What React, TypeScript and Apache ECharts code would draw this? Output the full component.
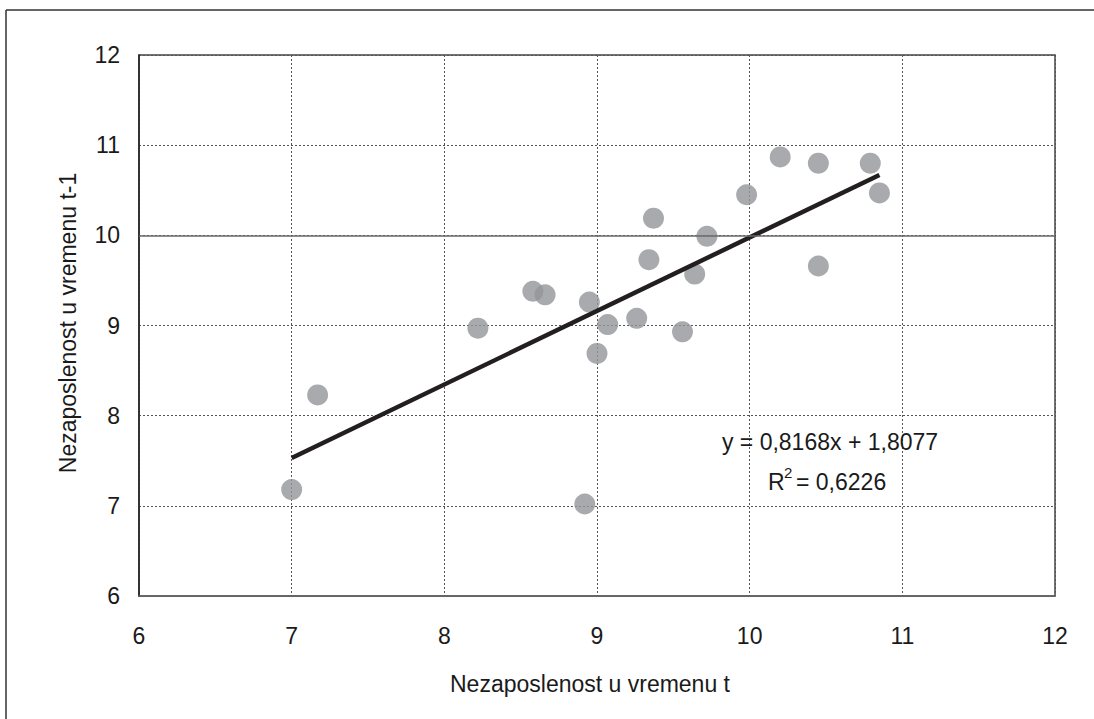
import React, { useEffect, useRef } from "react";
import * as echarts from "echarts";

const xValues = [7.0, 7.17, 8.22, 8.58, 8.66, 8.92, 8.95, 9.0, 9.07, 9.26, 9.34, 9.37, 9.56, 9.64, 9.72, 9.98, 10.2, 10.45, 10.45, 10.79, 10.85];
const yValues = [7.18, 8.23, 8.97, 9.38, 9.34, 7.02, 9.26, 8.69, 9.01, 9.08, 9.73, 10.19, 8.93, 9.57, 9.99, 10.45, 10.87, 10.8, 9.66, 10.8, 10.47];
const trendX = [7.0, 10.85];
const trendY = [7.53, 10.67];
const xTitle = "Nezaposlenost u vremenu t";
const yTitle = "Nezaposlenost u vremenu t-1";
const equation = "y = 0,8168x + 1,8077";
const rSquared = "= 0,6226";

export default function App() {
  const ref = useRef<HTMLDivElement>(null);
  useEffect(() => {
    if (!ref.current) return;
    const chart = echarts.init(ref.current, undefined, { renderer: "svg" });
    const font = "Liberation Sans, Arial, sans-serif";
    const dotted = { type: [2, 2] as any, color: "#555", width: 1 };
    chart.setOption({
      animation: false,
      backgroundColor: "#fff",
      grid: {
        left: 139,
        top: 55,
        width: 916,
        height: 541,
        show: true,
        borderColor: "#444",
        borderWidth: 1.5,
      },
      xAxis: {
        type: "value",
        min: 6,
        max: 12,
        interval: 1,
        axisLine: { show: true, lineStyle: { color: "#666", width: 1.5 } },
        axisTick: { show: false },
        axisLabel: { color: "#1a1a1a", fontSize: 23, fontFamily: font, margin: 28 },
        splitLine: { show: true, lineStyle: dotted },
      },
      yAxis: {
        type: "value",
        min: 6,
        max: 12,
        interval: 1,
        axisLine: { show: true, lineStyle: { color: "#222", width: 1.5 } },
        axisTick: { show: false },
        axisLabel: { color: "#1a1a1a", fontSize: 23, fontFamily: font, margin: 19 },
        splitLine: { show: true, lineStyle: dotted },
      },
      series: [
        {
          type: "scatter",
          data: xValues.map((x, i) => [x, yValues[i]]),
          symbolSize: 21,
          itemStyle: { color: "#939598" },
          z: 3,
          markLine: {
            silent: true,
            symbol: "none",
            label: { show: false },
            lineStyle: { type: "solid", color: "#6a6a6a", width: 1.5 },
            data: [{ yAxis: 10 }],
          },
        },
        {
          type: "line",
          data: trendX.map((x, i) => [x, trendY[i]]),
          showSymbol: false,
          symbol: "none",
          lineStyle: { color: "#231f20", width: 4.5 },
          z: 4,
        },
      ],
      graphic: [
        { type: "line", shape: { x1: 6, y1: 10, x2: 1094, y2: 10 }, style: { stroke: "#333", lineWidth: 1.5 } },
        { type: "line", shape: { x1: 6, y1: 10, x2: 6, y2: 719 }, style: { stroke: "#333", lineWidth: 1.5 } },
        {
          type: "text",
          x: 590,
          y: 684,
          style: { text: xTitle, fill: "#1a1a1a", font: `23px ${font}`, textAlign: "center", textVerticalAlign: "middle" },
        },
        {
          type: "text",
          x: 68,
          y: 323,
          rotation: Math.PI / 2,
          style: { text: yTitle, fill: "#1a1a1a", font: `23px ${font}`, textAlign: "center", textVerticalAlign: "middle" },
        },
        {
          type: "text",
          x: 830,
          y: 442,
          z: 10,
          style: { text: equation, fill: "#1a1a1a", font: `23px ${font}`, textAlign: "center", textVerticalAlign: "middle" },
        },
        {
          type: "text",
          x: 768,
          y: 482,
          z: 10,
          style: { text: "R", fill: "#1a1a1a", font: `23px ${font}`, textAlign: "left", textVerticalAlign: "middle" },
        },
        {
          type: "text",
          x: 784,
          y: 472,
          z: 10,
          style: { text: "2", fill: "#1a1a1a", font: `15px ${font}`, textAlign: "left", textVerticalAlign: "middle" },
        },
        {
          type: "text",
          x: 796,
          y: 482,
          z: 10,
          style: { text: rSquared, fill: "#1a1a1a", font: `23px ${font}`, textAlign: "left", textVerticalAlign: "middle" },
        },
      ],
    });
    return () => chart.dispose();
  }, []);
  return <div ref={ref} style={{ position: "fixed", left: 0, top: 0, width: 1094, height: 719 }} />;
}
